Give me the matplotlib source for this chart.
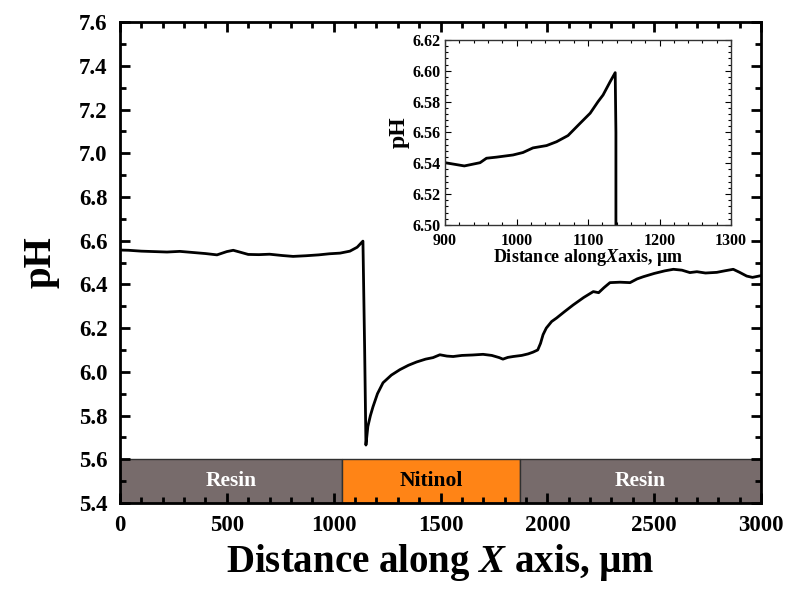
import numpy as np
import matplotlib
matplotlib.use('Agg')
import matplotlib.pyplot as plt
from matplotlib.ticker import MultipleLocator

plt.rcParams['font.family'] = ['Liberation Serif', 'DejaVu Serif']
plt.rcParams['font.weight'] = 'bold'
plt.rcParams['mathtext.fontset'] = 'custom'
plt.rcParams['mathtext.it'] = 'Liberation Serif:italic:bold'
plt.rcParams['mathtext.rm'] = 'Liberation Serif:bold'

# main scan
dist = [0, 40, 100, 160, 220, 280, 340, 400, 454, 500, 530, 560, 600, 650, 700,
        760, 810, 870, 930, 980, 1030, 1076, 1110, 1137, 1145, 1151, 1160, 1172,
        1184, 1205, 1231, 1270, 1310, 1350, 1388, 1430, 1465, 1497, 1530, 1559,
        1600, 1650, 1699, 1740, 1775, 1792, 1815, 1840, 1880, 1910, 1933, 1955,
        1968, 1980, 1995, 2020, 2043, 2080, 2121, 2170, 2215, 2240, 2265, 2293,
        2340, 2387, 2420, 2449, 2500, 2550, 2590, 2630, 2667, 2700, 2740, 2793,
        2830, 2870, 2900, 2933, 2960, 3000]
ph = [6.557, 6.556, 6.552, 6.550, 6.548, 6.551, 6.546, 6.541, 6.535, 6.550,
      6.556, 6.548, 6.537, 6.536, 6.538, 6.532, 6.528, 6.531, 6.535, 6.540,
      6.543, 6.552, 6.570, 6.598, 6.10, 5.665, 5.75, 5.80, 5.84, 5.90, 5.95,
      5.985, 6.01, 6.03, 6.045, 6.058, 6.065, 6.078, 6.072, 6.070, 6.075,
      6.077, 6.080, 6.075, 6.065, 6.058, 6.066, 6.070, 6.075, 6.082, 6.09,
      6.10, 6.13, 6.17, 6.20, 6.23, 6.246, 6.275, 6.306, 6.34, 6.367, 6.362,
      6.385, 6.408, 6.410, 6.408, 6.425, 6.435, 6.450, 6.462, 6.469, 6.465,
      6.454, 6.458, 6.452, 6.455, 6.462, 6.469, 6.455, 6.438, 6.432, 6.44]

# zoomed part near the resin / nitinol edge
inset_dist = [900, 927, 949, 958, 972, 995, 1009, 1023, 1042, 1056, 1072, 1089,
              1103, 1114, 1121, 1131, 1138, 1139, 1139]
inset_ph = [6.5404, 6.5383, 6.5404, 6.5433, 6.544, 6.5454, 6.547, 6.550,
            6.5515, 6.554, 6.558, 6.566, 6.5725, 6.580, 6.5843, 6.593, 6.5988,
            6.56, 6.40]

# material strip under the curve
regions = ['Resin', 'Nitinol', 'Resin']
region_start = [0, 1040, 1870]
region_end = [1040, 1870, 3000]
region_color = ['#776b6b', '#ff8416', '#776b6b']
region_text = ['white', 'black', 'white']

fig = plt.figure(figsize=(7.91, 5.93), dpi=100)
ax = fig.add_axes([0.1517, 0.1518, 0.8104, 0.811])

for name, s, e, c, tc in zip(regions, region_start, region_end, region_color, region_text):
    ax.add_patch(plt.Rectangle((s, 5.4), e - s, 0.2, facecolor=c, edgecolor='#303030',
                               linewidth=1.0, zorder=1))
    ax.text((s + e) / 2, 5.5, name, ha='center', va='center', color=tc,
            fontsize=15.5, fontweight='bold', zorder=2)

ax.plot(dist, ph, color='black', linewidth=2.0, zorder=3)
ax.set_xlim(0, 3000)
ax.set_ylim(5.4, 7.6)
ax.xaxis.set_major_locator(MultipleLocator(500))
ax.xaxis.set_minor_locator(MultipleLocator(100))
ax.yaxis.set_major_locator(MultipleLocator(0.2))
ax.yaxis.set_minor_locator(MultipleLocator(0.1))
ax.tick_params(which='both', direction='in', top=True, right=True, width=2, zorder=5)
ax.tick_params(which='major', length=7, labelsize=16.5, pad=9)
ax.tick_params(which='minor', length=4)
for sp in ax.spines.values():
    sp.set_linewidth(2)
    sp.set_zorder(6)
ax.set_xlabel(r'Distance along $X$ axis, µm', fontsize=28, fontweight='bold', labelpad=4)
ax.set_ylabel('pH', fontsize=28, fontweight='bold', labelpad=14)
for lab in ax.get_xticklabels() + ax.get_yticklabels():
    lab.set_fontweight('bold')

# inset
axi = fig.add_axes([0.5626, 0.6206, 0.3616, 0.312])
axi.plot(inset_dist, inset_ph, color='black', linewidth=2.0)
axi.set_xlim(900, 1300)
axi.set_ylim(6.50, 6.62)
axi.xaxis.set_major_locator(MultipleLocator(100))
axi.xaxis.set_minor_locator(MultipleLocator(20))
axi.yaxis.set_major_locator(MultipleLocator(0.02))
axi.yaxis.set_minor_locator(MultipleLocator(0.004))
axi.yaxis.set_major_formatter(plt.FormatStrFormatter('%.2f'))
axi.tick_params(which='both', direction='in', top=True, right=True, width=0.8)
axi.tick_params(which='major', length=4, labelsize=11.5, pad=3)
axi.tick_params(axis='x', which='major', pad=5.5)
axi.tick_params(which='minor', length=2)
for sp in axi.spines.values():
    sp.set_linewidth(1.0)
    sp.set_color('#333333')
axi.set_xlabel(r'Distance along$X$axis, µm', fontsize=13, fontweight='bold', labelpad=-1)
axi.set_ylabel('pH', fontsize=17, fontweight='bold', labelpad=2)
for lab in axi.get_xticklabels() + axi.get_yticklabels():
    lab.set_fontweight('bold')

fig.savefig('out.png', dpi=100)
